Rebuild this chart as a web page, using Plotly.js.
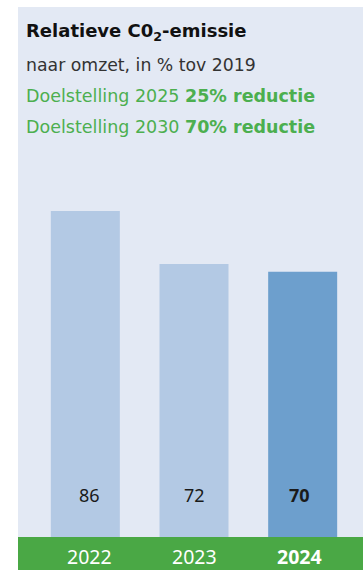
<!DOCTYPE html>
<html>
<head>
<meta charset="utf-8">
<script src="https://cdn.plot.ly/plotly-3.0.1.min.js"></script>
<style>
  html, body { margin: 0; padding: 0; background: #ffffff; }
  #chart { width: 363px; height: 570px; }
</style>
</head>
<body>
<div id="chart"></div>
<script>
// ---- data ----
const years = ['2022', '2023', '2024'];
const values = [86, 72, 70];
const yearLabels = ['2022', '2023', '<b>2024</b>'];
const valueLabels = ['86', '72', '<b>70</b>'];
const titleText = '<b>Relatieve C0<sub>2</sub>-emissie</b>';
const subtitleText = 'naar omzet, in % tov 2019';
const goalLines = ['Doelstelling 2025 <b>25% reductie</b>', 'Doelstelling 2030 <b>70% reductie</b>'];

// ---- layout geometry ----
const W = 363, H = 570;
const mL = 31, mR = 6, mT = 150, mB = 33;
const plotW = W - mL - mR, plotH = H - mT - mB;
const px2x = px => (px - mL) / plotW;
const py2y = py => (H - mB - py) / plotH;

const FONT = '"DejaVu Sans", "IBM Plex Sans", sans-serif';
const FONT2 = '"Noto Sans", sans-serif';
const barColors = ['#b3c9e4', '#b3c9e4', '#6d9fcd'];
const labelShift = [4.5, 0, -3.5];

const trace = {
  type: 'bar',
  x: years,
  y: values,
  marker: { color: barColors, line: { width: 0 } },
  hoverinfo: 'skip'
};

const annotations = [];
annotations.push({ xref: 'paper', yref: 'paper', x: px2x(24), y: py2y(32), xanchor: 'left', yanchor: 'middle',
  text: titleText, showarrow: false, font: { family: FONT, size: 18, color: '#111111' } });
annotations.push({ xref: 'paper', yref: 'paper', x: px2x(24), y: py2y(65), xanchor: 'left', yanchor: 'middle',
  text: subtitleText, showarrow: false, font: { family: FONT, size: 17.3, color: '#333333' } });
goalLines.forEach((t, i) => {
  annotations.push({ xref: 'paper', yref: 'paper', x: px2x(24), y: py2y(96.5 + i * 31), xanchor: 'left', yanchor: 'middle',
    text: t, showarrow: false, font: { family: FONT, size: 17.5, color: '#4caf4f' } });
});
years.forEach((yr, i) => {
  annotations.push({ xref: 'x', yref: 'paper', x: i, y: py2y(495), xanchor: 'center', yanchor: 'middle', xshift: labelShift[i],
    text: valueLabels[i], showarrow: false, font: { family: FONT2, size: 18, color: '#1a1a1a' } });
  annotations.push({ xref: 'x', yref: 'paper', x: i, y: py2y(556.5), xanchor: 'center', yanchor: 'middle', xshift: labelShift[i],
    text: yearLabels[i], showarrow: false, font: { family: FONT2, size: 19.5, color: '#ffffff' } });
});

const layout = {
  width: W, height: H,
  margin: { l: mL, r: mR, t: mT, b: mB, pad: 0 },
  paper_bgcolor: '#ffffff',
  plot_bgcolor: 'rgba(0,0,0,0)',
  showlegend: false,
  bargap: 0.365,
  font: { family: FONT },
  xaxis: { type: 'category', range: [-0.5, 2.5], autorange: false, showticklabels: false, showgrid: false, zeroline: false, showline: false, ticks: '', fixedrange: true },
  yaxis: { range: [0, 102.1], autorange: false, visible: false, showgrid: false, zeroline: false, fixedrange: true },
  shapes: [
    { type: 'rect', xref: 'paper', yref: 'paper', layer: 'below',
      x0: px2x(18), x1: px2x(363), y0: py2y(537), y1: py2y(7),
      fillcolor: '#e3e9f4', line: { width: 0 } },
    { type: 'rect', xref: 'paper', yref: 'paper', layer: 'below',
      x0: px2x(18), x1: px2x(363), y0: py2y(570), y1: py2y(537),
      fillcolor: '#4aa845', line: { width: 0 } }
  ],
  annotations: annotations
};

Plotly.newPlot('chart', [trace], layout, { displayModeBar: false, staticPlot: true });
</script>
</body>
</html>
